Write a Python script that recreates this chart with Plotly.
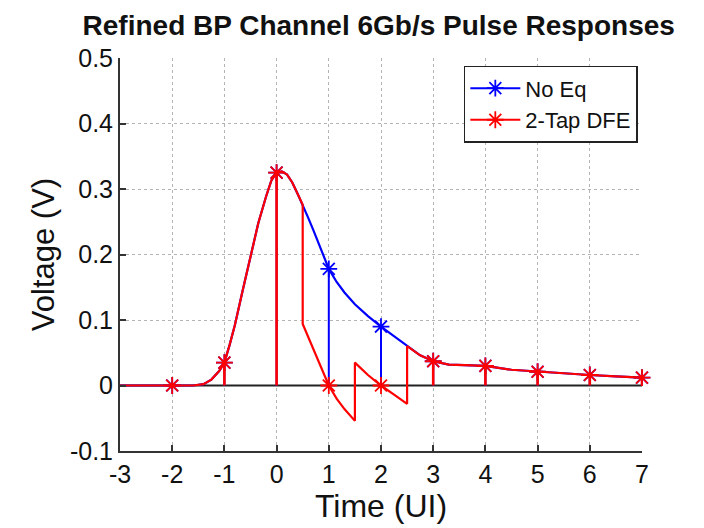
import plotly.graph_objects as go

# Unequalized pulse response of the channel (time in UI, voltage in V)
pulse_t = [-3, -2, -1.6, -1.4, -1.25, -1.1, -1.0, -0.9, -0.8, -0.65, -0.5, -0.35,
           -0.2, -0.1, 0.0, 0.1, 0.2, 0.3, 0.4, 0.5, 0.6, 0.7, 0.85, 1.0, 1.15,
           1.3, 1.5, 1.75, 2.0, 2.25, 2.5, 2.75, 3.0, 3.3, 3.6, 4.0, 4.5, 5.0,
           5.5, 6.0, 6.5, 7.0]
pulse_v = [0.0, 0.0, 0.0, 0.002, 0.009, 0.022, 0.035, 0.062, 0.092, 0.145, 0.199,
           0.248, 0.289, 0.313, 0.325, 0.327, 0.322, 0.310, 0.293, 0.276, 0.257,
           0.238, 0.207, 0.178, 0.158, 0.142, 0.124, 0.106, 0.090, 0.075, 0.060,
           0.046, 0.037, 0.032, 0.031, 0.030, 0.024, 0.021, 0.019, 0.016, 0.014,
           0.012]

# Portion of the response altered by the 2-tap DFE feedback (0.5 UI .. 2.5 UI)
dfe_t = [0.5, 0.6, 0.7, 0.85, 1.0, 1.15, 1.3, 1.5, 1.5, 1.75, 2.0, 2.25, 2.5, 2.5]
dfe_v = [0.094, 0.075, 0.057, 0.028, 0.0, -0.020, -0.036, -0.054, 0.035, 0.016,
         0.0, -0.014, -0.028, 0.060]

# Cursor samples at integer UI
ui = [-2, -1, 0, 1, 2, 3, 4, 5, 6, 7]
noeq_samples = [0.0, 0.035, 0.325, 0.178, 0.090, 0.037, 0.030, 0.021, 0.016, 0.012]
dfe_samples = [0.0, 0.035, 0.325, 0.0, 0.0, 0.037, 0.030, 0.021, 0.016, 0.012]

x_ticks = list(range(-3, 8))
x_labels = [str(v) for v in x_ticks]
y_ticks = [-0.1, 0, 0.1, 0.2, 0.3, 0.4, 0.5]
y_labels = ["-0.1", "0", "0.1", "0.2", "0.3", "0.4", "0.5"]
x_range = [-3, 7]
y_range = [-0.1, 0.5]

BLUE = "#0000ff"
RED = "#ff0000"
FONT = "Arial, Liberation Sans, sans-serif"

# Full DFE curve: pulse up to 0.5 UI, equalized section, then pulse after 2.5 UI
dfe_curve_t = [t for t in pulse_t if t < 0.5] + [0.5] + dfe_t + [t for t in pulse_t if t > 2.5]
dfe_curve_v = ([v for t, v in zip(pulse_t, pulse_v) if t < 0.5]
               + [pulse_v[pulse_t.index(0.5)]] + dfe_v
               + [v for t, v in zip(pulse_t, pulse_v) if t > 2.5])


def stems(xs, ys):
    sx, sy = [], []
    for x, y in zip(xs, ys):
        sx += [x, x, None]
        sy += [0, y, None]
    return sx, sy


fig = go.Figure()

# zero reference line
fig.add_trace(go.Scatter(x=x_range, y=[0, 0], mode="lines",
                         line=dict(color="#222222", width=2), showlegend=False,
                         hoverinfo="skip"))

for name, color, ct, cv, samples, stem_w in [
    ("No Eq", BLUE, pulse_t, pulse_v, noeq_samples, 2),
    ("2-Tap DFE", RED, dfe_curve_t, dfe_curve_v, dfe_samples, 2.6),
]:
    marker = dict(symbol="asterisk-open", size=14, color=color,
                  line=dict(color=color, width=1.8))
    fig.add_trace(go.Scatter(x=ct, y=cv, mode="lines",
                             line=dict(color=color, width=2.2), showlegend=False))
    sx, sy = stems(ui, samples)
    fig.add_trace(go.Scatter(x=sx, y=sy, mode="lines",
                             line=dict(color=color, width=stem_w), showlegend=False))
    fig.add_trace(go.Scatter(x=ui, y=samples, mode="markers", cliponaxis=False,
                             marker=marker, showlegend=False))
    # legend entry
    fig.add_trace(go.Scatter(x=[None], y=[None], mode="lines+markers", name=name,
                             line=dict(color=color, width=2), marker=marker))

axis_common = dict(
    showgrid=True, gridcolor="#b4b4b4", griddash="dot", gridwidth=1,
    zeroline=False, showline=True, linecolor="#333333", linewidth=2,
    ticks="inside", ticklen=6, tickcolor="#333333", tickwidth=1.5,
    mirror=False, tickfont=dict(family=FONT, size=25, color="#111111"),
)

fig.update_xaxes(range=x_range, tickvals=x_ticks, ticktext=x_labels, **axis_common,
                 title=dict(text="Time (UI)", font=dict(family=FONT, size=32, color="#111111"),
                            standoff=4))
fig.update_yaxes(range=y_range, tickvals=y_ticks, ticktext=y_labels, **axis_common,
                 title=dict(text="Voltage (V)", font=dict(family=FONT, size=31, color="#111111"),
                            standoff=6))

fig.update_layout(
    width=704, height=528,
    margin=dict(l=120, r=62, t=58, b=77),
    paper_bgcolor="white", plot_bgcolor="white",
    title=dict(text="<b>Refined BP Channel 6Gb/s Pulse Responses</b>",
               font=dict(family=FONT, size=28, color="#111111"),
               x=0.538, xanchor="center", y=0.953, yanchor="middle"),
    legend=dict(x=0.992, y=0.98, xanchor="right", yanchor="top",
                bgcolor="white", bordercolor="#222222", borderwidth=1.5,
                font=dict(family=FONT, size=22, color="#111111"),
                itemwidth=50, tracegroupgap=0),
    showlegend=True,
)

fig.write_html("out.html")
